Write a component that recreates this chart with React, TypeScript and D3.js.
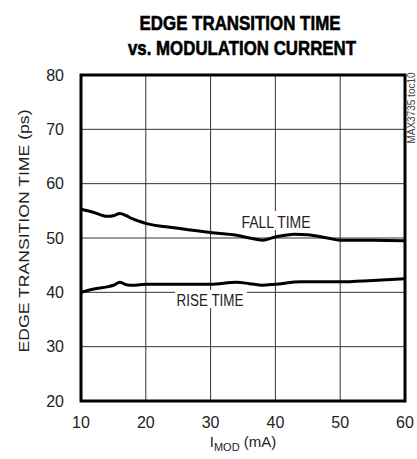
import React from "react";
import * as d3 from "d3";

const xTicks = [10, 20, 30, 40, 50, 60];
const yTicks = [20, 30, 40, 50, 60, 70, 80];
const fallX = [10, 12, 14, 15, 16, 17, 18, 20, 25, 30, 34, 36, 38, 40, 43, 45, 48, 50, 55, 60];
const fallY = [55.3, 54.7, 54.0, 54.1, 54.5, 54.1, 53.5, 52.7, 51.8, 51.0, 50.5, 50.0, 49.6, 50.2, 50.7, 50.6, 50.0, 49.6, 49.6, 49.5];
const riseX = [10, 12, 14, 15, 16, 17, 18, 20, 25, 30, 34, 36, 38, 40, 44, 50, 55, 60];
const riseY = [40.0, 40.6, 41.0, 41.3, 41.85, 41.4, 41.3, 41.5, 41.5, 41.5, 41.85, 41.6, 41.3, 41.5, 41.95, 41.95, 42.2, 42.5];

const FONT = "'Liberation Sans Narrow', 'Liberation Sans', Arial, sans-serif";

export default function App() {
  const W = 417, H = 459;
  const L = 81, R = 405, T = 75, B = 401;
  const x = d3.scaleLinear().domain([10, 60]).range([L, R]);
  const y = d3.scaleLinear().domain([20, 80]).range([B, T]);
  const line = d3.line<[number, number]>().x(d => x(d[0])).y(d => y(d[1])).curve(d3.curveMonotoneX);
  const fall = fallX.map((v, i) => [v, fallY[i]] as [number, number]);
  const rise = riseX.map((v, i) => [v, riseY[i]] as [number, number]);
  return (
    <svg width={W} height={H} style={{ position: "absolute", left: 0, top: 0, background: "#fff" }} fontFamily={FONT}>
      <rect x={0} y={0} width={W} height={H} fill="#fff" />
      <text x={240} y={30} textAnchor="middle" fontSize={21} fontWeight="bold" stroke="#000" strokeWidth={0.6} textLength={201} lengthAdjust="spacingAndGlyphs">EDGE TRANSITION TIME</text>
      <text x={242} y={55} textAnchor="middle" fontSize={21} fontWeight="bold" stroke="#000" strokeWidth={0.6} textLength={228} lengthAdjust="spacingAndGlyphs">vs. MODULATION CURRENT</text>
      {xTicks.slice(1, -1).map(t => (
        <line key={"gx" + t} x1={x(t)} x2={x(t)} y1={T} y2={B} stroke="#333" strokeWidth={1} />
      ))}
      {yTicks.slice(1, -1).map(t => (
        <line key={"gy" + t} x1={L} x2={R} y1={y(t)} y2={y(t)} stroke="#333" strokeWidth={1} />
      ))}
      <rect x={240} y={211} width={73} height={19} fill="#fff" />
      <text x={276} y={228} textAnchor="middle" fontSize={16} fill="#222" textLength={69} lengthAdjust="spacingAndGlyphs">FALL TIME</text>
      <rect x={175} y={290} width={72} height={18} fill="#fff" />
      <text x={210} y={306} textAnchor="middle" fontSize={16} fill="#222" textLength={67} lengthAdjust="spacingAndGlyphs">RISE TIME</text>
      <path d={line(fall) || ""} fill="none" stroke="#000" strokeWidth={3} />
      <path d={line(rise) || ""} fill="none" stroke="#000" strokeWidth={3} />
      <rect x={L} y={T} width={R - L} height={B - T} fill="none" stroke="#000" strokeWidth={3} />
      {yTicks.map(t => (
        <text key={"ty" + t} x={64} y={y(t)} dy="0.35em" textAnchor="end" fontSize={16} fill="#222">{t}</text>
      ))}
      {xTicks.map(t => (
        <text key={"tx" + t} x={x(t)} y={428} textAnchor="middle" fontSize={16} fill="#222">{t}</text>
      ))}
      <text x={243} y={447} textAnchor="middle" fontSize={15} fill="#222">
        I<tspan fontSize={11} dy={4}>MOD</tspan><tspan dy={-4}> (mA)</tspan>
      </text>
      <text transform={`translate(29,${(T + B) / 2 - 7}) rotate(-90)`} textAnchor="middle" fontSize={15} fill="#222" textLength={243} lengthAdjust="spacingAndGlyphs">EDGE TRANSITION TIME (ps)</text>
      <text transform={`translate(415,108) rotate(-90)`} textAnchor="middle" fontSize={10} fill="#444">MAX3735 toc10</text>
    </svg>
  );
}
